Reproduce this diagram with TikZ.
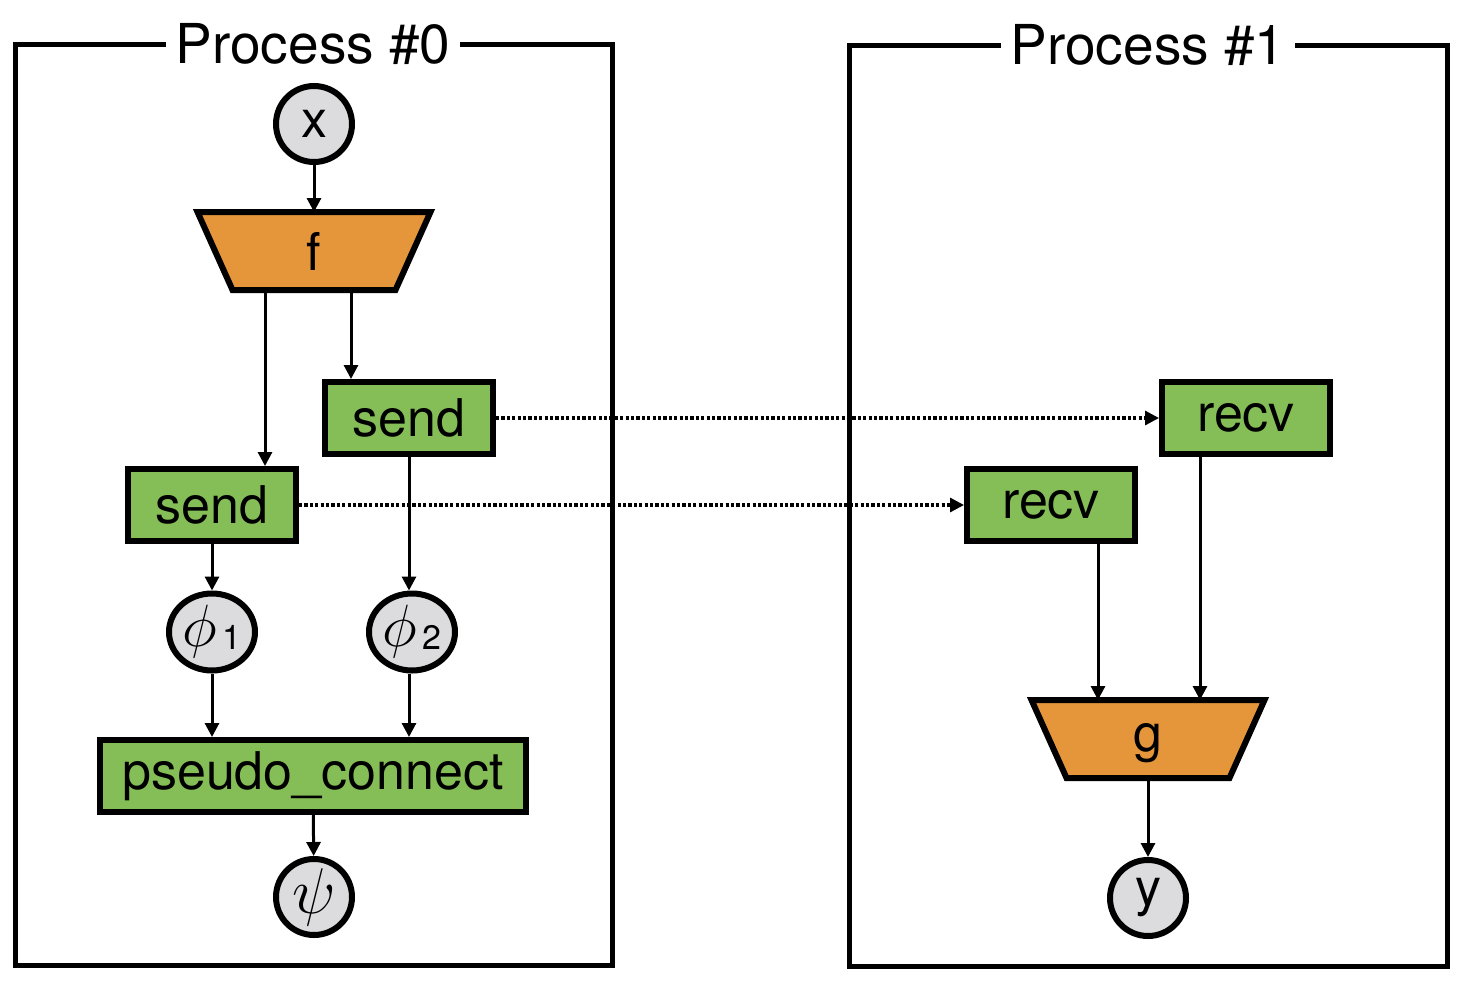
\documentclass[tikz,border=0pt]{standalone}
\usepackage{fontspec}
\usepackage{graphicx}
\setmainfont{TeX Gyre Heros}
\usetikzlibrary{arrows.meta,shapes.geometric,calc}
\definecolor{borange}{HTML}{E5963B}
\definecolor{bgreen}{HTML}{85BD56}
\definecolor{bgrey}{HTML}{DCDCDE}
\tikzset{
  procbox/.style={line width=2.5pt},
  proctitle/.style={fill=white,inner xsep=5pt,inner ysep=2pt,font=\fontsize{27.5}{32}\selectfont},
  greenbox/.style={draw,line width=3pt,fill=bgreen,minimum width=84pt,minimum height=36pt,inner sep=0pt,font=\fontsize{26}{30}\selectfont},
  varnode/.style={draw,circle,line width=3pt,fill=bgrey,minimum size=38pt,inner sep=0pt,font=\fontsize{26}{30}\selectfont},
  phinode/.style={draw,ellipse,line width=3pt,fill=bgrey,minimum width=43pt,minimum height=38.5pt,inner sep=0pt},
  trapbase/.style={minimum width=113.5pt,minimum height=36pt,inner sep=0pt,outer sep=1.5pt,font=\fontsize{26}{30}\selectfont},
  trapfill/.style={draw,line width=3pt,fill=borange,line join=miter},
  arr/.style={line width=1.5pt,-{Triangle[length=7pt,width=7pt]}},
  darr/.style={line width=1.6pt,dash pattern=on 1.6pt off 1.1pt,-{Triangle[length=7pt,width=7pt]}},
}
\newcommand{\phisub}[1]{\fontsize{24}{28}\selectfont\scalebox{1.2}{$\phi$}\kern3pt\raisebox{-1.5pt}{\fontsize{17}{20}\selectfont #1}}
\begin{document}
\begin{tikzpicture}[x=0.5pt,y=-0.5pt]
\useasboundingbox (0,0) rectangle (1472,991);
% process boxes
\draw[procbox] (15,44) rectangle (612,965);
\draw[procbox] (849,45) rectangle (1447,966);
\node[proctitle] (t0) at (313,44) {Process \#0};
\node[proctitle] (t1) at (1148,45) {Process \#1};
% left process
\node[varnode] (x) at (314,124) {x};
\node[trapbase] (f) at (314,251) {};
\draw[trapfill] (f.north west) -- (f.north east) -- ($(f.south east)+(-35,0)$) -- ($(f.south west)+(35,0)$) -- cycle;
\node[font=\fontsize{26}{30}\selectfont] (ft) at (f.center) {f};
\node[greenbox] (s2) at (409,418) {send};
\node[greenbox] (s1) at (212,505) {send};
\node[phinode] (p1) at (212,632) {\phisub{1}};
\node[phinode] (p2) at (412,632) {\phisub{2}};
\node[greenbox,minimum width=213pt] (pc) at (313,776) {pseudo\_connect};
\node[varnode] (psi) at (314,897) {\fontsize{24}{28}\selectfont\scalebox{1.3}{$\psi$}};
% right process
\node[greenbox] (r2) at (1246,418) {recv};
\node[greenbox] (r1) at (1051,505) {recv};
\node[trapbase] (g) at (1148,739) {};
\draw[trapfill] (g.north west) -- (g.north east) -- ($(g.south east)+(-35,0)$) -- ($(g.south west)+(35,0)$) -- cycle;
\node[font=\fontsize{26}{30}\selectfont] (gt) at ($(g.center)+(0,4)$) {g};
\node[varnode] (y) at (1148,898) {y};
% helper x positions
\coordinate (a1) at (265,0);
\coordinate (a2) at (351,0);
\coordinate (b1) at (1098,0);
\coordinate (b2) at (1200,0);
\coordinate (c1) at (212,0);
\coordinate (c2) at (409,0);
% arrows
\draw[arr] (x) -- (f);
\draw[arr] (f.south -| a1) -- (s1.north -| a1);
\draw[arr] (f.south -| a2) -- (s2.north -| a2);
\draw[arr] (s1) -- (p1);
\draw[arr] (s2.south) -- (p2.north -| c2);
\draw[arr] (p1) -- (pc.north -| c1);
\draw[arr] (p2.south -| c2) -- (pc.north -| c2);
\draw[arr] (pc) -- (psi);
\draw[arr] (r1.south -| b1) -- (g.north -| b1);
\draw[arr] (r2.south -| b2) -- (g.north -| b2);
\draw[arr] (g) -- (y);
\draw[darr] (s2) -- (r2);
\draw[darr] (s1) -- (r1);
\end{tikzpicture}
\end{document}
